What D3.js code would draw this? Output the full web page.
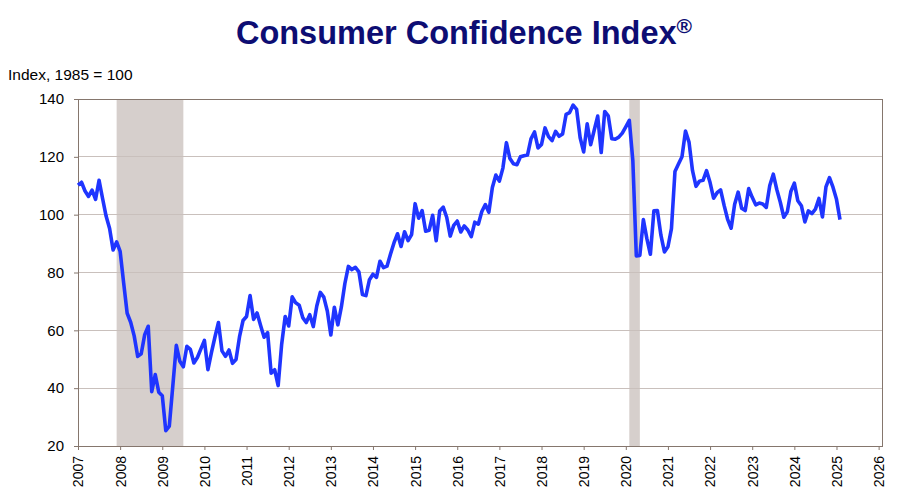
<!DOCTYPE html>
<html>
<head>
<meta charset="utf-8">
<script src="https://cdn.jsdelivr.net/npm/d3@7"></script>
<style>
  body { margin: 0; background: #fff; }
  svg { font-family: "Liberation Sans", Arial, sans-serif; }
</style>
</head>
<body>
<div id="chart"></div>
<script>
// monthly index values, Jan 2007 .. Feb 2025
var startYear = 2007;
var cci = [
  110.2,111.2,108.2,106.3,108.5,105.3,111.9,105.6,99.5,95.2,87.8,90.6,   // 2007
  87.3,76.4,65.9,62.8,58.1,51.0,51.9,58.5,61.4,38.8,44.7,38.6,           // 2008
  37.4,25.3,26.9,40.8,54.8,49.3,47.4,54.5,53.4,48.7,50.6,53.6,           // 2009
  56.5,46.4,52.3,57.7,62.7,52.9,51.0,53.2,48.6,49.9,57.8,63.4,           // 2010
  64.8,72.0,63.8,66.0,61.7,57.6,59.2,45.2,46.4,40.9,55.2,64.8,           // 2011
  61.5,71.6,69.5,68.7,64.4,62.7,65.4,61.3,68.4,73.1,71.5,66.7,           // 2012
  58.4,68.0,61.9,68.1,76.2,82.1,81.0,81.8,80.2,72.4,72.0,77.5,           // 2013
  79.4,78.3,83.9,81.7,82.2,86.4,90.3,93.4,89.0,94.1,91.0,93.1,           // 2014
  103.8,98.8,101.4,94.3,94.6,99.8,91.0,101.3,102.6,99.1,92.6,96.3,       // 2015
  97.8,94.0,96.1,94.7,92.4,97.4,96.7,101.1,103.5,100.8,109.4,113.7,      // 2016
  111.6,116.1,124.9,119.4,117.6,117.3,120.0,120.4,120.6,126.2,128.6,123.1, // 2017
  124.3,130.0,127.0,125.6,128.8,127.1,127.9,134.7,135.3,137.9,136.4,126.6, // 2018
  121.7,131.4,124.2,129.2,134.1,121.5,135.7,134.2,126.3,126.1,126.8,128.2, // 2019
  130.4,132.6,118.8,85.7,85.9,98.3,91.7,86.3,101.3,101.4,92.9,87.1,      // 2020
  88.9,95.2,114.9,117.5,120.0,128.9,125.1,115.2,109.8,111.6,111.9,115.2, // 2021
  111.1,105.7,107.6,108.6,103.2,98.4,95.3,103.6,107.8,102.2,101.4,109.0, // 2022
  106.0,103.4,104.0,103.7,102.5,110.1,114.0,108.7,104.3,99.1,101.0,108.0, // 2023
  110.9,104.8,103.1,97.5,101.3,100.4,101.9,105.6,99.2,109.6,112.8,109.5, // 2024
  105.3,98.3                                                            // 2025
];
// recessions as [start, end] in year fractions
var recessions = [[2007 + 11/12, 2009.5], [2020 + 1/12, 2020 + 4/12]];
var yTicks = [20, 40, 60, 80, 100, 120, 140];
var xTicks = d3.range(2007, 2027);

var width = 901, height = 495;
var plotLeft = 78, plotRight = 882, plotTop = 99, plotBottom = 446;

var svg = d3.select("#chart").append("svg")
  .attr("width", width).attr("height", height);

var x = d3.scaleLinear().domain([2007, 2026.08]).range([plotLeft, plotRight]);
var y = d3.scaleLinear().domain([20, 140]).range([plotBottom, plotTop]);

// recession bands
svg.selectAll("rect.rec").data(recessions).enter().append("rect")
  .attr("class", "rec")
  .attr("x", function(d) { return x(d[0]); })
  .attr("width", function(d) { return x(d[1]) - x(d[0]); })
  .attr("y", plotTop)
  .attr("height", plotBottom - plotTop)
  .attr("fill", "#d6cfcc");

// gridlines
svg.selectAll("line.grid").data(yTicks.slice(1, -1)).enter().append("line")
  .attr("class", "grid")
  .attr("x1", plotLeft).attr("x2", plotRight)
  .attr("y1", function(d) { return y(d); })
  .attr("y2", function(d) { return y(d); })
  .attr("stroke", "#c9c0bc")
  .attr("stroke-width", 1)
  .style("shape-rendering", "crispEdges");

// frame
svg.append("rect")
  .attr("x", plotLeft).attr("y", plotTop)
  .attr("width", plotRight - plotLeft).attr("height", plotBottom - plotTop)
  .attr("fill", "none")
  .attr("stroke", "#85766d")
  .attr("stroke-width", 1)
  .style("shape-rendering", "crispEdges");

// y axis
var yAxis = svg.append("g")
  .attr("transform", "translate(" + plotLeft + ",0)")
  .call(d3.axisLeft(y).tickValues(yTicks).tickSize(4).tickPadding(10));
yAxis.select(".domain").remove();
yAxis.selectAll(".tick line").attr("stroke", "#85766d");
yAxis.selectAll(".tick text")
  .attr("font-size", "15px")
  .attr("font-family", "Liberation Sans, Arial, sans-serif")
  .attr("fill", "#000");

// x axis
var xAxis = svg.append("g")
  .attr("transform", "translate(0," + plotBottom + ")")
  .call(d3.axisBottom(x).tickValues(xTicks).tickFormat(d3.format("d")).tickSize(4));
xAxis.select(".domain").remove();
xAxis.selectAll(".tick line").attr("stroke", "#85766d");
xAxis.selectAll(".tick text")
  .attr("font-size", "14px")
  .attr("font-family", "Liberation Sans, Arial, sans-serif")
  .attr("fill", "#000")
  .attr("transform", "rotate(-90)")
  .attr("text-anchor", "end")
  .attr("x", -10)
  .attr("y", 0)
  .attr("dy", "0.35em");

// line
var line = d3.line()
  .x(function(d, i) { return x(startYear + i / 12); })
  .y(function(d) { return y(d); });

svg.append("path")
  .datum(cci)
  .attr("d", line)
  .attr("fill", "none")
  .attr("stroke", "#1f35ff")
  .attr("stroke-width", 3.6)
  .attr("stroke-linejoin", "round");

// titles
svg.append("text")
  .attr("x", 464).attr("y", 44)
  .attr("text-anchor", "middle")
  .attr("font-size", "32.5px")
  .attr("font-weight", "bold")
  .attr("fill", "#0d0d73")
  .text("Consumer Confidence Index")
  .append("tspan")
  .attr("font-size", "21px")
  .attr("dy", "-11")
  .text("®");

svg.append("text")
  .attr("x", 8).attr("y", 80)
  .attr("font-size", "15.5px")
  .attr("fill", "#000")
  .text("Index, 1985 = 100");
</script>
</body>
</html>
